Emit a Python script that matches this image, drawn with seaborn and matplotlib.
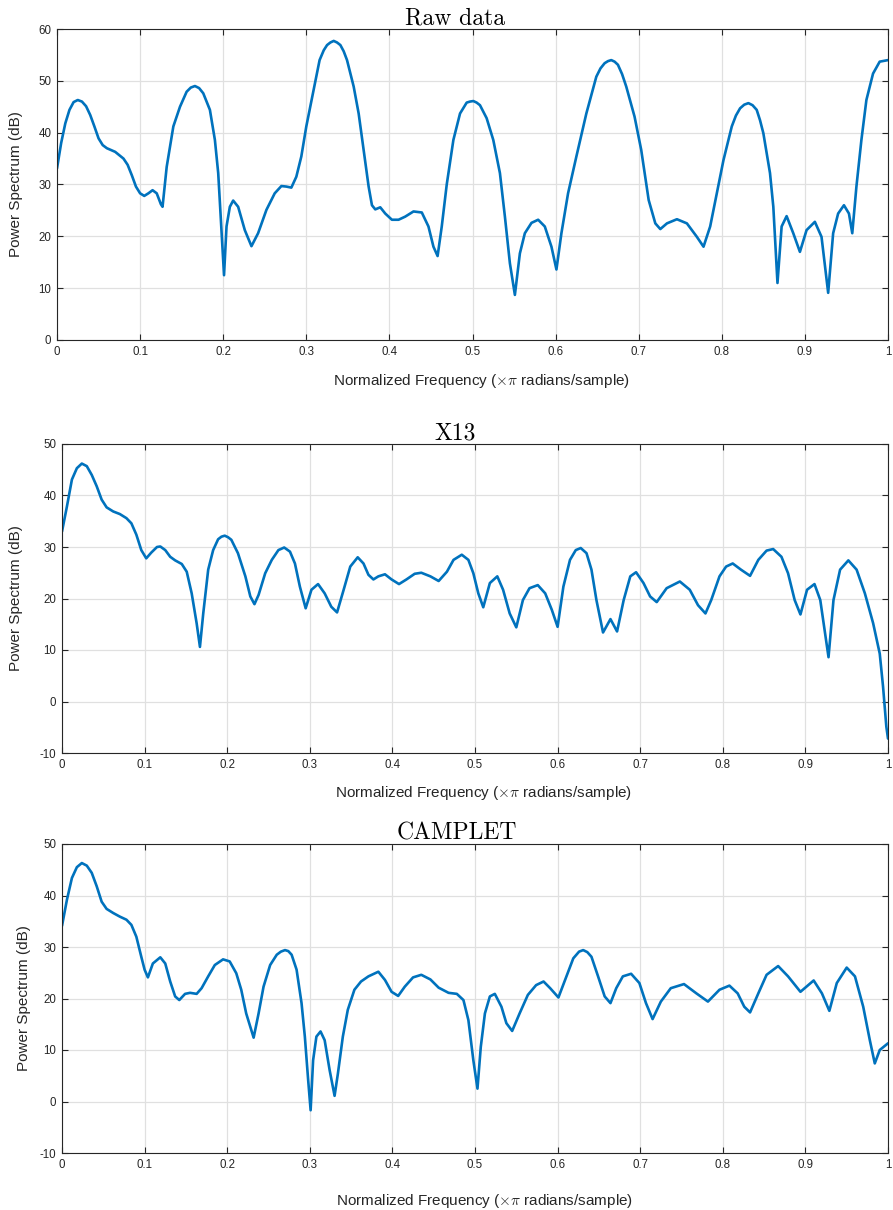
import matplotlib
matplotlib.use("Agg")
import matplotlib.pyplot as plt
import seaborn as sns
import pandas as pd

# ---------------- data ----------------
raw_freq = [0, 0.005, 0.01, 0.015, 0.02, 0.025, 0.03, 0.035, 0.04, 0.045, 0.05, 0.055, 0.06, 0.07,
            0.08, 0.085, 0.09, 0.095, 0.1, 0.105, 0.11, 0.115, 0.12, 0.125, 0.127, 0.132, 0.14, 0.148,
            0.156, 0.161, 0.166, 0.171, 0.176, 0.184, 0.19, 0.194, 0.197, 0.201, 0.204, 0.208, 0.212,
            0.218, 0.226, 0.234, 0.242, 0.252, 0.262, 0.27, 0.276, 0.282, 0.288, 0.294, 0.3, 0.308,
            0.316, 0.321, 0.325, 0.329, 0.333, 0.337, 0.341, 0.345, 0.349, 0.357, 0.363, 0.369, 0.375,
            0.379, 0.383, 0.389, 0.395, 0.403, 0.411, 0.419, 0.429, 0.439, 0.447, 0.453, 0.458, 0.463,
            0.469, 0.477, 0.485, 0.493, 0.497, 0.501, 0.505, 0.509, 0.517, 0.525, 0.533, 0.539, 0.545,
            0.551, 0.557, 0.563, 0.571, 0.579, 0.587, 0.595, 0.601, 0.607, 0.615, 0.625, 0.637, 0.649,
            0.654, 0.659, 0.663, 0.667, 0.671, 0.675, 0.68, 0.685, 0.695, 0.703, 0.712, 0.72, 0.726,
            0.734, 0.746, 0.758, 0.77, 0.778, 0.786, 0.794, 0.802, 0.812, 0.817, 0.822, 0.827, 0.832,
            0.837, 0.842, 0.846, 0.85, 0.858, 0.862, 0.867, 0.872, 0.878, 0.886, 0.894, 0.902, 0.912,
            0.92, 0.928, 0.934, 0.94, 0.947, 0.953, 0.957, 0.962, 0.968, 0.974, 0.982, 0.99, 1.0]
raw_db = [33.1, 38.0, 41.8, 44.4, 45.9, 46.3, 46.0, 45.1, 43.4, 41.2, 38.9, 37.6, 37.0, 36.3,
          35.0, 33.8, 31.8, 29.6, 28.3, 27.8, 28.3, 28.9, 28.3, 26.2, 25.7, 33.4, 41.2, 45.0,
          47.9, 48.7, 49.0, 48.6, 47.6, 44.4, 38.6, 32.2, 23.8, 12.5, 21.9, 25.7, 26.9,
          25.7, 21.2, 18.1, 20.6, 25.1, 28.3, 29.7, 29.6, 29.4, 31.5, 35.4, 41.2, 47.6,
          54.0, 55.9, 56.9, 57.4, 57.7, 57.4, 56.9, 55.7, 54.0, 48.9, 43.7, 36.7, 29.6,
          26.0, 25.2, 25.6, 24.4, 23.2, 23.2, 23.8, 24.8, 24.6, 21.9, 18.0, 16.2, 21.9,
          30.0, 38.6, 43.7, 45.8, 46.0, 46.1, 45.8, 45.3, 42.8, 38.6, 32.2, 23.8, 14.8,
          8.7, 16.7, 20.6, 22.6, 23.2, 21.9, 18.0, 13.6, 20.6, 28.3, 35.4, 43.7, 50.8,
          52.4, 53.4, 53.8, 54.0, 53.7, 53.1, 51.3, 48.9, 43.1, 36.7, 27.0, 22.5, 21.4,
          22.5, 23.3, 22.5, 19.9, 18.0, 21.9, 28.3, 34.7, 41.2, 43.3, 44.7, 45.4, 45.7,
          45.3, 44.4, 42.4, 39.9, 32.2, 25.7, 11.0, 21.9, 23.9, 20.6, 17.0, 21.2, 22.8,
          19.9, 9.1, 20.6, 24.4, 26.0, 24.4, 20.6, 29.6, 38.6, 46.3, 51.4, 53.7, 54.0]

x13_freq = [0, 0.006, 0.012, 0.018, 0.024, 0.03, 0.036, 0.042, 0.048, 0.054, 0.062, 0.07, 0.078,
            0.084, 0.09, 0.096, 0.102, 0.108, 0.115, 0.119, 0.125, 0.131, 0.137, 0.145, 0.151, 0.157,
            0.163, 0.167, 0.171, 0.177, 0.183, 0.189, 0.193, 0.197, 0.201, 0.205, 0.213, 0.222, 0.228,
            0.233, 0.238, 0.246, 0.254, 0.262, 0.269, 0.276, 0.282, 0.288, 0.295, 0.302, 0.31, 0.318,
            0.326, 0.333, 0.341, 0.349, 0.358, 0.365, 0.371, 0.377, 0.383, 0.391, 0.399, 0.408,
            0.417, 0.427, 0.435, 0.446, 0.456, 0.466, 0.474, 0.484, 0.492, 0.498, 0.504, 0.51,
            0.518, 0.527, 0.534, 0.542, 0.55, 0.558, 0.566, 0.576, 0.585, 0.593, 0.6, 0.607,
            0.615, 0.622, 0.628, 0.635, 0.641, 0.647, 0.655, 0.664, 0.672, 0.68, 0.688, 0.695,
            0.704, 0.712, 0.72, 0.732, 0.748, 0.76, 0.77, 0.779, 0.786, 0.796, 0.804, 0.812,
            0.822, 0.833, 0.843, 0.853, 0.861, 0.871, 0.879, 0.887, 0.894, 0.902, 0.911, 0.918,
            0.928, 0.934, 0.942, 0.952, 0.962, 0.972, 0.982, 0.99, 0.994, 0.998, 1.0]
x13_db = [33.0, 37.9, 43.1, 45.3, 46.2, 45.7, 44.0, 41.8, 39.2, 37.7, 36.9, 36.4, 35.6,
          34.6, 32.4, 29.4, 27.8, 28.9, 30.0, 30.1, 29.4, 28.1, 27.4, 26.7, 25.2, 21.0,
          15.2, 10.6, 17.1, 25.6, 29.4, 31.5, 32.0, 32.2, 31.9, 31.4, 28.8, 24.3, 20.4,
          18.9, 20.7, 24.9, 27.5, 29.4, 29.9, 29.1, 26.8, 22.3, 18.1, 21.7, 22.8, 21.0,
          18.4, 17.3, 21.7, 26.2, 28.0, 26.8, 24.6, 23.7, 24.3, 24.7, 23.7, 22.8,
          23.7, 24.8, 25.0, 24.3, 23.4, 25.2, 27.5, 28.5, 27.5, 24.9, 21.0, 18.3,
          23.0, 24.3, 21.7, 17.1, 14.4, 19.7, 22.0, 22.6, 21.0, 17.8, 14.5, 22.3,
          27.5, 29.4, 29.8, 28.8, 25.6, 19.7, 13.4, 16.0, 13.6, 19.7, 24.3, 25.1,
          23.0, 20.4, 19.3, 22.0, 23.3, 21.7, 18.7, 17.1, 19.7, 24.3, 26.2, 26.8,
          25.6, 24.4, 27.5, 29.3, 29.6, 28.1, 24.9, 19.7, 16.9, 21.7, 22.8, 19.7,
          8.6, 19.7, 25.6, 27.4, 25.6, 21.0, 15.2, 9.3, 2.9, -4.9, -7.2]

cam_freq = [0, 0.006, 0.012, 0.018, 0.024, 0.03, 0.036, 0.042, 0.048, 0.054, 0.062, 0.07, 0.078,
            0.084, 0.09, 0.096, 0.1, 0.104, 0.11, 0.119, 0.125, 0.131, 0.137, 0.142, 0.149, 0.155,
            0.163, 0.169, 0.177, 0.185, 0.195, 0.203, 0.211, 0.217, 0.223, 0.232, 0.238, 0.244,
            0.252, 0.26, 0.265, 0.27, 0.274, 0.278, 0.284, 0.29, 0.294, 0.298, 0.301, 0.304, 0.308,
            0.313, 0.318, 0.324, 0.33, 0.334, 0.34, 0.346, 0.354, 0.362, 0.371, 0.383, 0.391, 0.399,
            0.407, 0.415, 0.425, 0.435, 0.446, 0.456, 0.468, 0.478, 0.486, 0.492, 0.498, 0.503,
            0.507, 0.512, 0.518, 0.524, 0.532, 0.538, 0.545, 0.554, 0.564, 0.574, 0.583, 0.591,
            0.601, 0.609, 0.619, 0.626, 0.631, 0.636, 0.641, 0.649, 0.657, 0.664, 0.671, 0.679,
            0.689, 0.699, 0.707, 0.715, 0.725, 0.737, 0.753, 0.768, 0.782, 0.796, 0.808, 0.818,
            0.826, 0.833, 0.843, 0.853, 0.867, 0.879, 0.894, 0.91, 0.92, 0.929, 0.938, 0.95, 0.96,
            0.97, 0.978, 0.984, 0.99, 1.0]
cam_db = [34.1, 39.2, 43.4, 45.5, 46.3, 45.8, 44.4, 41.8, 38.8, 37.4, 36.6, 35.9, 35.3,
          34.3, 32.0, 28.1, 25.6, 24.1, 26.8, 28.0, 26.8, 23.3, 20.4, 19.7, 20.9, 21.1,
          20.9, 22.0, 24.3, 26.5, 27.6, 27.2, 24.9, 21.7, 17.1, 12.4, 17.1, 22.3,
          26.5, 28.5, 29.1, 29.4, 29.2, 28.5, 25.6, 19.1, 12.6, 4.2, -1.7, 8.0, 12.6,
          13.6, 11.9, 6.1, 1.1, 5.4, 12.6, 17.8, 21.7, 23.3, 24.3, 25.2, 23.6, 21.3,
          20.5, 22.3, 24.1, 24.6, 23.7, 22.1, 21.1, 20.9, 19.7, 15.8, 8.0, 2.5,
          10.6, 17.1, 20.4, 20.9, 18.4, 15.2, 13.7, 17.1, 20.7, 22.6, 23.3, 22.0,
          20.2, 23.6, 27.8, 29.1, 29.4, 29.0, 28.1, 24.3, 20.4, 19.1, 22.0, 24.3,
          24.8, 23.0, 19.1, 16.0, 19.4, 22.0, 22.8, 21.0, 19.4, 21.7, 22.5, 21.0,
          18.4, 17.3, 21.0, 24.6, 26.3, 24.3, 21.3, 23.5, 21.0, 17.6, 23.0, 26.0, 24.3,
          18.4, 11.9, 7.4, 10.0, 11.3]

titles = ["Raw data", "X13", "CAMPLET"]
x_ticks = [0, 0.1, 0.2, 0.3, 0.4, 0.5, 0.6, 0.7, 0.8, 0.9, 1]
x_tick_labels = ["0", "0.1", "0.2", "0.3", "0.4", "0.5", "0.6", "0.7", "0.8", "0.9", "1"]
y_ticks_raw = [0, 10, 20, 30, 40, 50, 60]
y_ticks_filt = [-10, 0, 10, 20, 30, 40, 50]

# ---------------- style ----------------
sns.set_theme(style="white")
plt.rcParams["font.family"] = ["Liberation Sans", "DejaVu Sans"]
plt.rcParams["mathtext.fontset"] = "cm"
plt.rcParams["axes.unicode_minus"] = False

LINE_COLOR = "#0072BD"
AX_COLOR = "#262626"

fig = plt.figure(figsize=(8.93, 12.10), dpi=100)

panels = [
    dict(rect=[57/893, (1210-340)/1210, 831/893, 311/1210], freq=raw_freq, db=raw_db,
         ylim=(0, 60), yticks=y_ticks_raw, ylab_x=-0.041, xlab_y=-0.103, xlab_x=0.511,
         title_x=0.479),
    dict(rect=[62/893, (1210-753)/1210, 826/893, 309/1210], freq=x13_freq, db=x13_db,
         ylim=(-10, 50), yticks=y_ticks_filt, ylab_x=-0.047, xlab_y=-0.100, xlab_x=0.510,
         title_x=0.476),
    dict(rect=[62/893, (1210-1153)/1210, 826/893, 309/1210], freq=cam_freq, db=cam_db,
         ylim=(-10, 50), yticks=y_ticks_filt, ylab_x=-0.0375, xlab_y=-0.126, xlab_x=0.512,
         title_x=0.478),
]

for title, p in zip(titles, panels):
    ax = fig.add_axes(p["rect"])
    df = pd.DataFrame({"freq": p["freq"], "db": p["db"]})
    sns.lineplot(data=df, x="freq", y="db", ax=ax, color=LINE_COLOR, linewidth=1.9,
                 sort=False, estimator=None)
    ax.set_xlim(0, 1)
    ax.set_ylim(*p["ylim"])
    ax.set_xticks(x_ticks)
    ax.set_xticklabels(x_tick_labels)
    ax.set_yticks(p["yticks"])
    ax.set_yticklabels([str(v) for v in p["yticks"]])
    ax.set_axisbelow(True)
    ax.grid(True, color="#e0e0e0", linewidth=0.9)
    for s in ax.spines.values():
        s.set_visible(True)
        s.set_color(AX_COLOR)
        s.set_linewidth(0.8)
    ax.tick_params(direction="in", length=4, width=0.8, color=AX_COLOR,
                   labelcolor=AX_COLOR, labelsize=8.3, top=True, right=True,
                   bottom=True, left=True, pad=4)
    ax.set_title(title, fontfamily="cmr10", fontsize=17, pad=3, color="black",
                 x=p["title_x"])
    ax.set_ylabel("Power Spectrum (dB)", fontsize=11, color=AX_COLOR)
    ax.set_xlabel(r"Normalized Frequency ($\times\pi$ radians/sample)", fontsize=11,
                  color=AX_COLOR)
    ax.yaxis.set_label_coords(p["ylab_x"], 0.5)
    ax.xaxis.set_label_coords(p["xlab_x"], p["xlab_y"])

fig.savefig("out.png", dpi=100)
